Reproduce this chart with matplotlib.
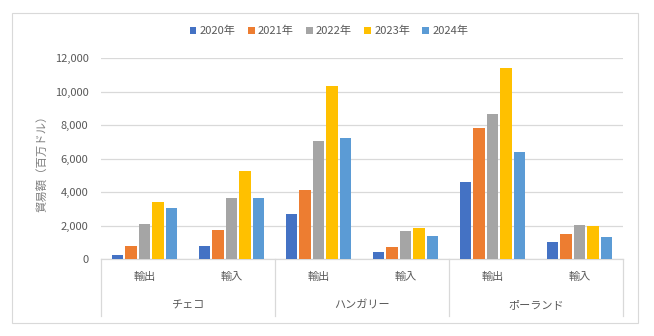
import matplotlib.pyplot as plt
from matplotlib.patches import Rectangle

plt.rcParams['font.family'] = ['Noto Sans CJK JP', 'DejaVu Sans']

COUNTRIES = ["チェコ", "ハンガリー", "ポーランド"]
FLOWS = ["輸出", "輸入"]
YEARS = ["2020年", "2021年", "2022年", "2023年", "2024年"]
COLORS = ["#4472C4", "#ED7D31", "#A5A5A5", "#FFC000", "#5B9BD5"]

# trade value (million USD), order: CZ export, CZ import, HU export, HU import, PL export, PL import
v2020 = [240, 760, 2710, 420, 4580, 1000]
v2021 = [760, 1710, 4100, 700, 7800, 1490]
v2022 = [2070, 3660, 7020, 1690, 8640, 2010]
v2023 = [3420, 5230, 10350, 1850, 11380, 1990]
v2024 = [3050, 3660, 7240, 1350, 6410, 1330]
series = [v2020, v2021, v2022, v2023, v2024]

GRAY = "#595959"
GRID = "#D9D9D9"
FS = 8

fig = plt.figure(figsize=(6.54, 3.36), dpi=100)
fig.patches.append(Rectangle((12 / 654, 1 - 323 / 336), 626 / 654, 310 / 336,
                             transform=fig.transFigure, fill=False,
                             edgecolor=GRID, linewidth=0.8))

ax = fig.add_axes([101 / 654, 1 - 259 / 336, 522 / 654, 201 / 336])

pitch = 0.155
width = 0.127
xs = [i + 0.5 for i in range(6)]
for k, vals in enumerate(series):
    pos = [x + (k - 2) * pitch for x in xs]
    ax.bar(pos, vals, width=width, color=COLORS[k], label=YEARS[k], zorder=3)

ax.set_xlim(0, 6)
ax.set_ylim(0, 12000)
ax.set_yticks(range(0, 12001, 2000))
ax.set_yticklabels([f"{t:,}" for t in range(0, 12001, 2000)], fontsize=FS, color=GRAY)
ax.tick_params(axis='y', length=0, pad=9)
ax.tick_params(axis='x', length=0, labelbottom=False)
ax.grid(axis='y', color=GRID, linewidth=0.9, zorder=0)
for s in ["top", "right", "left"]:
    ax.spines[s].set_visible(False)
ax.spines["bottom"].set_color(GRID)
ax.spines["bottom"].set_linewidth(0.9)

tr = ax.get_xaxis_transform()
for i, x in enumerate(xs):
    ax.text(x, -0.087, FLOWS[i % 2], transform=tr, ha='center', va='center',
            fontsize=FS, color=GRAY)
for j, c in enumerate(COUNTRIES):
    ax.text(2 * j + 1, -0.23, c, transform=tr, ha='center', va='center',
            fontsize=FS, color=GRAY)
for b in [0, 2, 4, 6]:
    ax.plot([b, b], [0, -0.285], transform=tr, color=GRID, linewidth=0.9,
            clip_on=False)

fig.text(42 / 654, 1 - 161 / 336, "貿易額（百万ドル）", rotation=90,
         ha='center', va='center', fontsize=8.2, color="#7F7F7F")

fig.legend(loc='center', bbox_to_anchor=(329 / 654, 1 - 31 / 336), ncol=5,
           frameon=False, fontsize=FS, handlelength=0.6, handleheight=0.6,
           handletextpad=0.3, columnspacing=1.1, labelcolor=GRAY)

fig.savefig("out.png", dpi=100)
